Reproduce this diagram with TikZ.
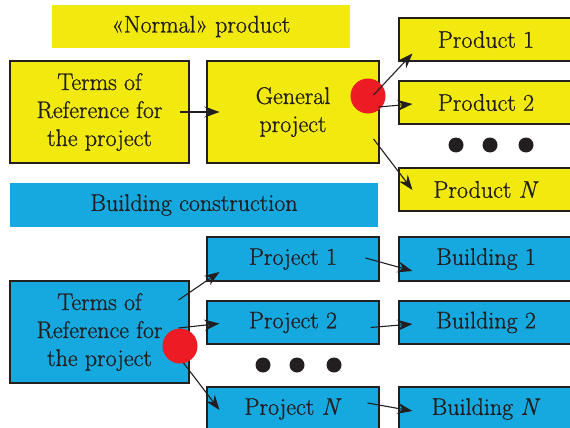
\documentclass[tikz,border=0pt]{standalone}
\usepackage{fontspec}
\setmainfont{Latin Modern Roman}[FakeBold=0.9, ItalicFeatures={FakeBold=0.9}]
\usetikzlibrary{arrows.meta}
\definecolor{ylw}{HTML}{F2E90F}
\definecolor{blu}{HTML}{16A9E0}
\definecolor{rdot}{HTML}{ED1C24}
\definecolor{edge}{HTML}{231F20}
\begin{document}
\begin{tikzpicture}[x=1pt,y=-1pt,
  txt/.style={font=\fontsize{24}{28}\selectfont, text=edge, inner sep=0pt, align=center},
  box/.style={txt, draw=edge, line width=1.1pt, rectangle},
  ybox/.style={box, fill=ylw},
  bbox/.style={box, fill=blu},
  arr/.style={-{Stealth[length=15pt,width=11pt,inset=5pt]}, line width=1.1pt, draw=edge},
  rd/.style={circle, fill=rdot, minimum size=35pt, inner sep=0pt},
  bd/.style={circle, fill=edge, minimum size=15pt, inner sep=0pt}]
\useasboundingbox (0,0) rectangle (570,428);
% banners
\node[txt, fill=ylw, minimum width=298pt, minimum height=43pt] (ban1) at (201,26.5) {«Normal» product};
\node[txt, fill=blu, minimum width=368pt, minimum height=44pt] (ban2) at (194,205) {Building construction};
% top row
\node[ybox, minimum width=179pt, minimum height=102pt] (tor1) at (99.5,112) {Terms of\\Reference for\\the project};
\node[ybox, minimum width=172pt, minimum height=102pt] (gp) at (293,112) {General\\project};
\node[ybox, minimum width=174pt, minimum height=43pt] (p1) at (486,39.5) {Product 1};
\node[ybox, minimum width=174pt, minimum height=43pt] (p2) at (486,102.5) {Product 2};
\node[ybox, minimum width=174pt, minimum height=43pt] (pn) at (486,189.5) {Product \textit{N}};
\node[rd] (r1) at (368,96) {};
\node[bd] (d1) at (456,145) {};
\node[bd] (d2) at (490,145) {};
\node[bd] (d3) at (526,145) {};
% bottom row
\node[bbox, minimum width=179pt, minimum height=102pt] (tor2) at (99.5,332) {Terms of\\Reference for\\the project};
\node[bbox, minimum width=172pt, minimum height=44pt] (j1) at (293,259) {Project 1};
\node[bbox, minimum width=172pt, minimum height=43pt] (j2) at (293,322.5) {Project 2};
\node[bbox, minimum width=172pt, minimum height=44pt] (jn) at (293,409) {Project \textit{N}};
\node[bbox, minimum width=174pt, minimum height=44pt] (b1) at (486,259) {Building 1};
\node[bbox, minimum width=174pt, minimum height=43pt] (b2) at (486,322.5) {Building 2};
\node[bbox, minimum width=174pt, minimum height=44pt] (bn) at (486,409) {Building \textit{N}};
\node[rd] (r2) at (180,346) {};
\node[bd] (e1) at (263,365) {};
\node[bd] (e2) at (297,365) {};
\node[bd] (e3) at (334,365) {};
% arrows top
\draw[arr] ([xshift=-10pt]tor1.east) -- ([xshift=13pt]gp.west);
\draw[arr] ([shift={(-6pt,17pt)}]gp.east) -- ([shift={(14pt,-14pt)}]p1.west);
\draw[arr] ([shift={(-1pt,5pt)}]gp.east) -- ([shift={(14pt,-1.5pt)}]p2.west);
\draw[arr] ([shift={(-6pt,-27pt)}]gp.east) -- ([shift={(14pt,-0.5pt)}]pn.west);
% arrows bottom
\draw[arr] ([shift={(-11pt,32pt)}]tor2.east) -- ([shift={(13pt,-13pt)}]j1.west);
\draw[arr] ([shift={(-11pt,4pt)}]tor2.east) -- ([shift={(13pt,-1pt)}]j2.west);
\draw[arr] ([shift={(-6pt,-31pt)}]tor2.east) -- ([shift={(13pt,-1pt)}]jn.west);
\draw[arr] ([shift={(-14pt,1pt)}]j1.east) -- ([shift={(14pt,-12pt)}]b1.west);
\draw[arr] ([shift={(-9pt,-5pt)}]j2.east) -- ([shift={(14pt,-1.5pt)}]b2.west);
\draw[arr] ([shift={(-12pt,6pt)}]jn.east) -- ([shift={(14pt,-2pt)}]bn.west);
\end{tikzpicture}
\end{document}
